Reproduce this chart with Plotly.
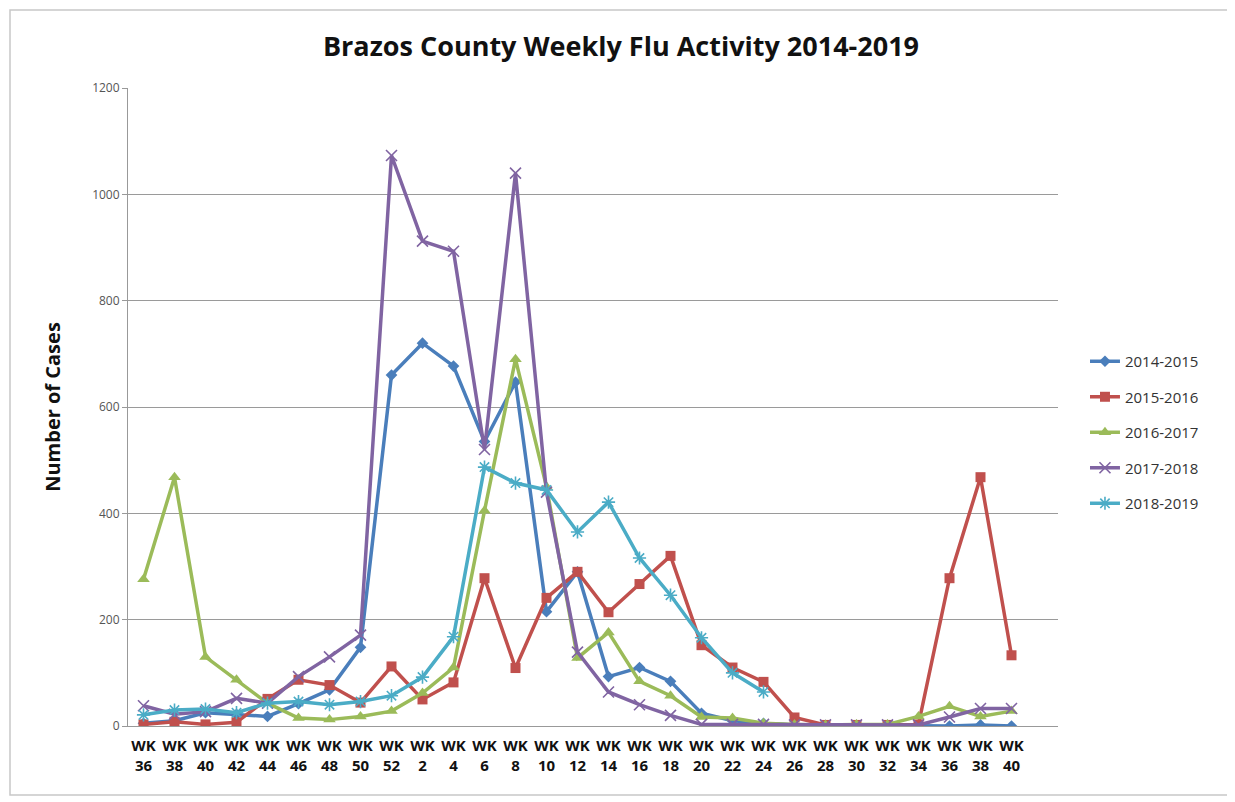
import plotly.graph_objects as go

weeks = ["36", "38", "40", "42", "44", "46", "48", "50", "52", "2", "4", "6", "8", "10",
         "12", "14", "16", "18", "20", "22", "24", "26", "28", "30", "32", "34", "36", "38", "40"]
tick_labels = ["WK<br>" + w for w in weeks]

s_2014_2015 = [5, 10, 25, 22, 18, 42, 68, 148, 660, 720, 677, 535, 647, 215, 290, 93, 110, 84,
               24, 10, 5, 2, 1, 1, 1, 0, 0, 2, 0]
s_2015_2016 = [3, 8, 3, 7, 51, 87, 77, 44, 112, 50, 82, 278, 109, 241, 290, 214, 267, 320,
               152, 110, 83, 16, 2, 2, 2, 3, 278, 468, 133]
s_2016_2017 = [276, 468, 130, 87, 43, 15, 12, 18, 28, 62, 110, 405, 690, 450, 128, 176, 84, 57,
               17, 15, 5, 3, 2, 3, 3, 18, 37, 18, 28]
s_2017_2018 = [38, 22, 27, 52, 43, 93, 130, 171, 1073, 912, 893, 520, 1040, 440, 139, 64, 40, 20,
               3, 3, 3, 2, 2, 2, 2, 2, 17, 33, 33]
s_2018_2019 = [21, 30, 32, 25, 43, 46, 40, 46, 57, 92, 168, 487, 457, 444, 365, 421, 316, 246,
               166, 100, 64, None, None, None, None, None, None, None, None]

series = [
    ("2014-2015", s_2014_2015, "#4A7EBB", dict(symbol="diamond", size=9)),
    ("2015-2016", s_2015_2016, "#C0504D", dict(symbol="square", size=10)),
    ("2016-2017", s_2016_2017, "#9BBB59", dict(symbol="triangle-up", size=11)),
    ("2017-2018", s_2017_2018, "#8064A2", dict(symbol="x-thin-open", size=11,
                                              line=dict(width=1.6, color="#9C87BF"))),
    ("2018-2019", s_2018_2019, "#4BACC6", dict(symbol="asterisk-open", size=11,
                                              line=dict(width=1.6, color="#4BACC6"))),
]

x = list(range(len(weeks)))

fig = go.Figure()
for name, vals, color, mk in series:
    marker = dict(color=color, **mk)
    fig.add_trace(go.Scatter(
        x=x, y=vals, name=name, mode="lines+markers",
        line=dict(color=color, width=3.5),
        marker=marker, legendgroup=name, connectgaps=False,
    ))

fig.update_layout(
    width=1235, height=802,
    margin=dict(l=120, r=185, t=80, b=84),
    paper_bgcolor="white", plot_bgcolor="white",
    title=dict(text="<b>Brazos County Weekly Flu Activity 2014-2019</b>",
               x=(621 - 128) / 930, xanchor="center", xref="paper", y=1 - 39 / 802, yanchor="middle",
               font=dict(family="Open Sans", size=27, color="#111111")),
    font=dict(family="Open Sans", color="#222222"),
    legend=dict(x=1.029, xanchor="left", y=0.460, yanchor="middle",
                font=dict(family="Open Sans", size=15, color="#333333"),
                tracegroupgap=13, itemwidth=30, bgcolor="rgba(0,0,0,0)"),
    showlegend=True,
)

fig.update_xaxes(
    range=[-0.5, 29.5], tickmode="array", tickvals=x, ticktext=["<b>" + t + "</b>" for t in tick_labels],
    tickangle=0, tickfont=dict(family="Open Sans", size=15, color="#111111"),
    ticklabelstandoff=6,
    showgrid=False, zeroline=False, showline=True, linecolor="#999999", linewidth=1,
    ticks="",
)
fig.update_yaxes(
    range=[0, 1200], dtick=200, tickfont=dict(family="Open Sans", size=12, color="#555555"),
    showgrid=True, gridcolor="#9A9A9A", gridwidth=1, zeroline=False,
    showline=True, linecolor="#999999", linewidth=1, ticks="outside", ticklen=5, tickcolor="#999999",
    title=dict(text="<b>Number of Cases</b>", font=dict(family="Open Sans", size=20, color="#111111"),
               standoff=26),
)

# outer chart frame
fig.add_shape(type="rect", xref="paper", yref="paper",
              x0=(10 - 128) / 930, x1=(1228 - 128) / 930,
              y0=(726 - 795) / 638, y1=(726 - 10) / 638,
              line=dict(color="#C8C8C8", width=1.5), layer="below")

fig.write_html("out.html")
